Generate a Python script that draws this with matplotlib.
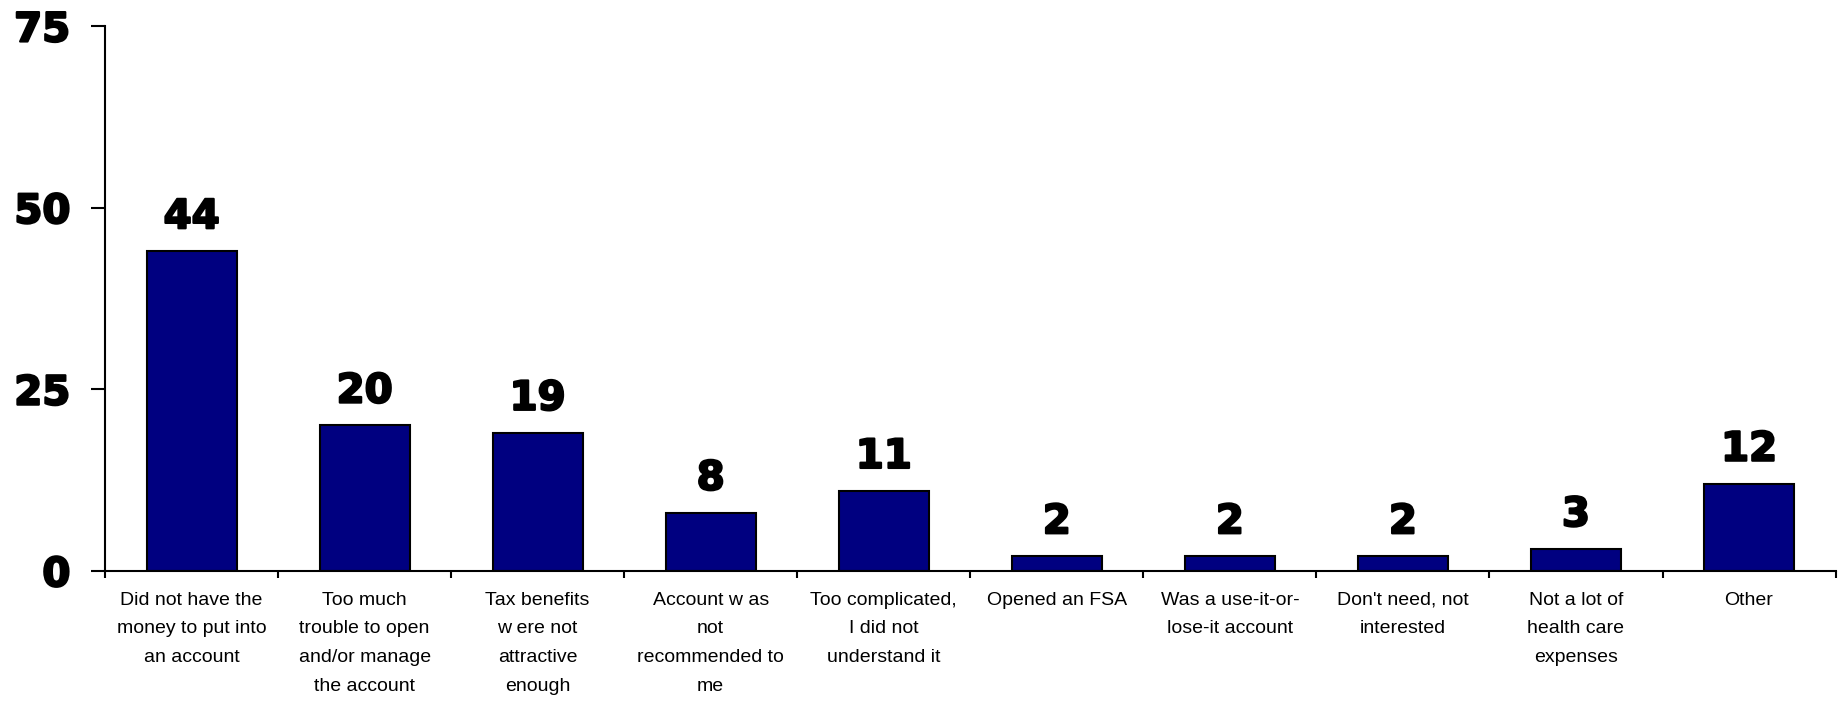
import numpy as np
import matplotlib.pyplot as plt
import matplotlib.patheffects as pe

# reasons for not opening an account (percent of respondents)
reasons = [
    "Did not have the\nmoney to put into\nan account",
    "Too much\ntrouble to open\nand/or manage\nthe account",
    "Tax benefits\nw ere not\nattractive\nenough",
    "Account w as\nnot\nrecommended to\nme",
    "Too complicated,\nI did not\nunderstand it",
    "Opened an FSA",
    "Was a use-it-or-\nlose-it account",
    "Don't need, not\ninterested",
    "Not a lot of\nhealth care\nexpenses",
    "Other",
]
percents = [44, 20, 19, 8, 11, 2, 2, 2, 3, 12]
y_ticks = [0, 25, 50, 75]

# thick outline so the bold digits look heavier
heavy = [pe.withStroke(linewidth=1.6, foreground='black')]


def plot_reasons(labels, values):
    fig = plt.figure(figsize=(18.45, 7.02), dpi=100)
    ax = fig.add_axes([0.0569, 0.187, 0.938, 0.776])

    x = np.arange(len(values))
    bars = ax.bar(x, values, width=0.52, color='#000080',
                  edgecolor='black', linewidth=1.5)

    for rect, v in zip(bars, values):
        ax.annotate(str(v), (rect.get_x() + rect.get_width() / 2, v),
                    xytext=(0, 10), textcoords='offset points',
                    ha='center', va='bottom', fontsize=29,
                    fontweight='bold', family='DejaVu Sans',
                    path_effects=heavy)

    ax.set_xlim(-0.5, len(values) - 0.5)
    ax.set_ylim(0, 75)
    ax.set_yticks(y_ticks)
    ax.set_yticklabels([str(t) for t in y_ticks], fontsize=29,
                       fontweight='bold', family='DejaVu Sans',
                       path_effects=heavy)
    ax.tick_params(axis='y', length=10, width=1.5, pad=15)

    # boundary ticks between categories, labels centred under bars
    ax.set_xticks(np.arange(-0.5, len(values), 1.0))
    ax.set_xticklabels([])
    ax.tick_params(axis='x', which='major', length=5, width=1.5)
    ax.set_xticks(x, minor=True)
    ax.set_xticklabels(labels, minor=True, fontsize=14,
                       family='Liberation Sans', linespacing=1.9)
    ax.tick_params(axis='x', which='minor', length=0, pad=15)

    for side in ('top', 'right'):
        ax.spines[side].set_visible(False)
    for side in ('left', 'bottom'):
        ax.spines[side].set_linewidth(1.5)

    fig.savefig('out.png', dpi=100)


def main():
    plot_reasons(reasons, percents)


if __name__ == "__main__":
    main()
